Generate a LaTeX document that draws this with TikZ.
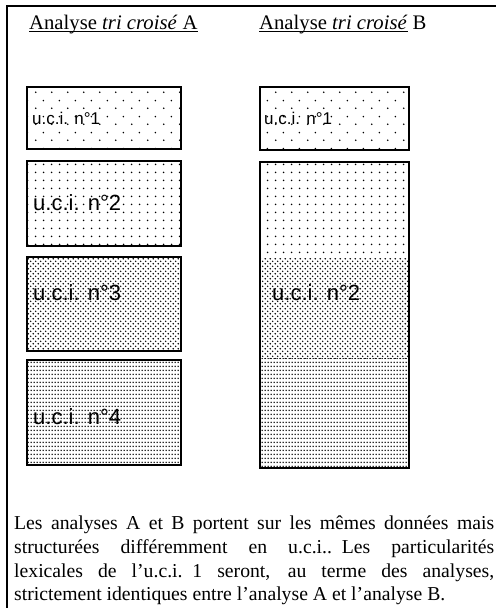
\documentclass[tikz,border=0pt]{standalone}
\usepackage{fontspec}
\setmainfont{Liberation Serif}
\newfontfamily\etiq{Liberation Sans}
\usetikzlibrary{patterns.meta, positioning}

% trames des u.c.i.
\tikzdeclarepattern{name=trameA, type=uncolored,
  bounding box={(0pt,0pt) and (16pt,16pt)}, tile size={(16pt,16pt)},
  code={\fill (4pt,4pt) circle (0.9pt); \fill (12pt,12pt) circle (0.9pt);}}
\tikzdeclarepattern{name=trameB, type=uncolored,
  bounding box={(0pt,0pt) and (8pt,8pt)}, tile size={(8pt,8pt)},
  code={\fill (4pt,4pt) circle (0.95pt);}}
\tikzdeclarepattern{name=trameC, type=uncolored,
  bounding box={(0pt,0pt) and (5.4pt,5.4pt)}, tile size={(5.4pt,5.4pt)},
  code={\fill (1.35pt,1.35pt) circle (0.9pt); \fill (4.05pt,4.05pt) circle (0.9pt);}}
\tikzdeclarepattern{name=trameD, type=uncolored,
  bounding box={(0pt,0pt) and (3pt,3.6pt)}, tile size={(3pt,3.6pt)},
  code={\fill (1.5pt,1.8pt) circle (0.95pt);}}

\newcommand\souligne[1]{\setbox0\hbox{#1}\rlap{\rule[-3pt]{\wd0}{0.8pt}}\box0\relax}

\tikzset{
  uci/.style={line width=1.4pt},
  etiquette/.style={anchor=west, inner sep=0pt, font=\etiq\fontsize{22}{22}\selectfont},
  titre/.style={anchor=base west, inner sep=0pt, font=\fontsize{20.7}{24}\selectfont},
}

\begin{document}
\begin{tikzpicture}[x=1pt, y=-1pt]
  \useasboundingbox (0,0) rectangle (496,608);
  % cadre
  \draw[line width=1.5pt] (7,608) -- (7,6) -- (496,6);
  % titres
  \node[titre] (titreA) at (29,29) {\souligne{Analyse \textit{tri croisé} A}};
  \node[titre] (titreB) at (259,29) {\souligne{Analyse \textit{tri croisé}} B};
  % Analyse A
  \draw[uci, pattern=trameA] (27,87) rectangle (181,149);
  \node[etiquette, font=\etiq\fontsize{17}{17}\selectfont] (a1) at (32,118) {u.c.i. n°1};
  \draw[uci, pattern=trameB] (27,161) rectangle (181,246);
  \node[etiquette] (a2) at (33,203) {u.c.i. n°2};
  \draw[uci, pattern=trameC] (27,257) rectangle (181,351);
  \node[etiquette] (a3) at (33,293) {u.c.i. n°3};
  \draw[uci, pattern=trameD] (27,360) rectangle (181,465);
  \node[etiquette] (a4) at (33,417) {u.c.i. n°4};
  % Analyse B
  \draw[uci, pattern=trameA] (260,87) rectangle (409,150);
  \node[etiquette, font=\etiq\fontsize{17}{17}\selectfont] (b1) at (264,118) {u.c.i. n°1};
  \fill[pattern=trameB] (260,162) rectangle (409,258);
  \fill[pattern=trameC] (260,258) rectangle (409,358);
  \fill[pattern=trameD] (260,358) rectangle (409,468);
  \draw[uci] (260,162) rectangle (409,468);
  \node[etiquette] (b2) at (272,293) {u.c.i. n°2};
  % commentaire
  \node[anchor=north west, inner sep=0pt, text width=480pt, align=left,
        font=\fontsize{19.7}{23.6}\selectfont] (texte) at (14,516) {\spaceskip=0pt\relax
    \makebox[480pt][s]{Les analyses A et B portent sur les mêmes données mais}\\
    \makebox[480pt][s]{structurées différemment en u.c.i.. Les particularités}\\
    \makebox[480pt][s]{lexicales de l’u.c.i. 1 seront, au terme des analyses,}\\
    strictement identiques entre l’analyse A et l’analyse B.};
\end{tikzpicture}
\end{document}
